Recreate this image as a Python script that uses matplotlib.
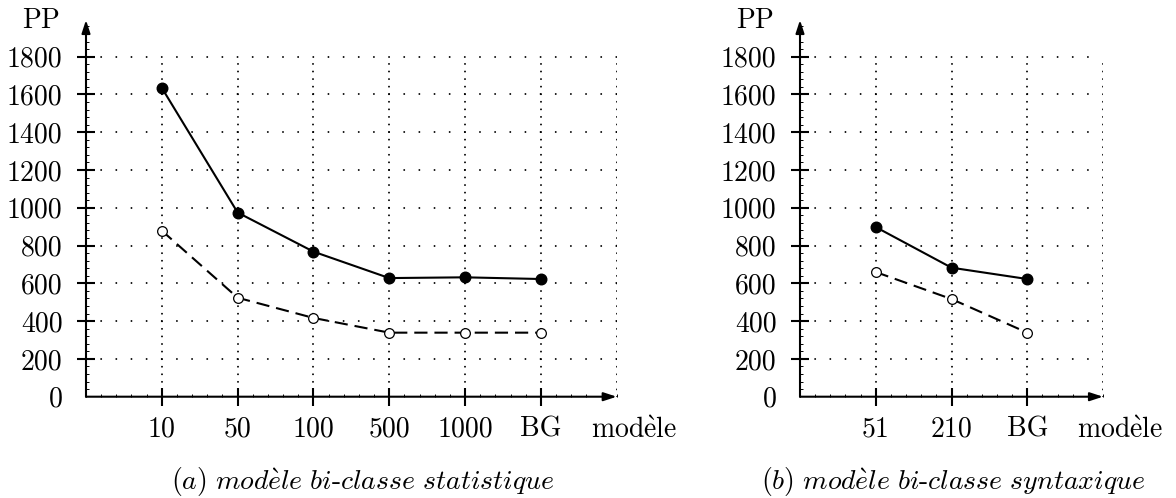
import numpy as np
import matplotlib
matplotlib.use('Agg')
import matplotlib.pyplot as plt
from matplotlib.ticker import MultipleLocator

plt.rcParams['mathtext.fontset'] = 'cm'
plt.rcParams['lines.scale_dashes'] = False

# données
stat_models = ['10', '50', '100', '500', '1000', 'BG']
stat_pp_full = [1635, 975, 768, 628, 632, 623]
stat_pp_open = [879, 524, 417, 339, 339, 339]

syn_models = ['51', '210', 'BG']
syn_pp_full = [898, 683, 623]
syn_pp_open = [660, 517, 339]

y_ticks = [0, 200, 400, 600, 800, 1000, 1200, 1400, 1600, 1800]

W, H = 1176, 498
fig = plt.figure(figsize=(W / 100, H / 100), dpi=100)

y0_px, ytop_px = 396.7, 20.0
ymax = 1800 * (y0_px - ytop_px) / (y0_px - 56.7)


def panel(left_px, right_px, models, pp_full, pp_open, caption, cap_x):
    n = len(models)
    ax = fig.add_axes([left_px / W, 1 - y0_px / H,
                       (right_px - left_px) / W, (y0_px - ytop_px) / H])
    for s in ax.spines.values():
        s.set_visible(False)
    ax.patch.set_visible(False)

    # grille pointillée
    ax.hlines(y_ticks[1:], 0, n + 1, colors='k', lw=1.4,
              linestyles=[(0, (0.01, 10.9))], capstyle='round', zorder=1)
    for xv in range(1, n + 2):
        ax.plot([xv, xv], [0, 1800], color='k', lw=1.4,
                linestyle=(0, (0.01, 5.44)), dash_capstyle='round', zorder=1)

    # axes avec flèches
    arrow = dict(arrowstyle='-|>,head_length=0.55,head_width=0.18', lw=1.5,
                 color='k', shrinkA=0, shrinkB=0, mutation_scale=14)
    ax.annotate('', xy=(n + 1, 0), xytext=(0, 0), arrowprops=arrow,
                annotation_clip=False, zorder=3)
    ax.annotate('', xy=(0, ymax), xytext=(0, 0), arrowprops=arrow,
                annotation_clip=False, zorder=3)

    x = np.arange(1, n + 1)
    ax.plot(x, pp_open, color='k', lw=1.5, linestyle=(0, (9.5, 5)),
            marker='o', markersize=7, markerfacecolor='white',
            markeredgecolor='k', markeredgewidth=0.9, zorder=4)
    ax.plot(x, pp_full, color='k', lw=1.5, marker='o', markersize=7.6,
            markerfacecolor='k', markeredgecolor='k', zorder=5)

    ax.set_xticks(x)
    ax.set_xticklabels(models)
    ax.set_yticks(y_ticks)
    ax.set_yticklabels([str(v) for v in y_ticks])
    ax.yaxis.get_major_ticks()[0].tick1line.set_visible(False)
    ax.xaxis.set_minor_locator(MultipleLocator(0.2))
    ax.yaxis.set_minor_locator(MultipleLocator(40))
    ax.tick_params(axis='x', which='major', direction='inout', length=13,
                   width=1.5, pad=7.5)
    ax.tick_params(axis='y', which='major', direction='inout', length=13,
                   width=1.5, pad=10.5)
    ax.tick_params(which='minor', direction='in', length=2.2, width=0.7)
    for lab in ax.get_xticklabels() + ax.get_yticklabels():
        lab.set_fontfamily('cmr10')
        lab.set_fontsize(20)
    ax.set_xlim(0, n + 1)
    ax.set_ylim(0, ymax)

    ax.annotate(r'$\mathrm{mod\grave{e}le}$', xy=(n + 1.23, 0),
                xycoords='data', xytext=(0, -14), textcoords='offset points',
                ha='center', va='top', fontsize=20, annotation_clip=False)
    fig.text((left_px - 45) / W, 1 - 20 / H, r'$\mathrm{PP}$', fontsize=20,
             ha='center', va='center')
    fig.text(cap_x / W, 1 - 481 / H, caption, fontsize=20,
             ha='center', va='center')
    return ax


panel(86, 616.7, stat_models, stat_pp_full, stat_pp_open,
      r'$\mathit{(a)\ mod\grave{e}le\ bi\text{-}classe\ statistique}$', 363)
panel(800, 1103, syn_models, syn_pp_full, syn_pp_open,
      r'$\mathit{(b)\ mod\grave{e}le\ bi\text{-}classe\ syntaxique}$', 953)

fig.savefig('out.png', dpi=100)
